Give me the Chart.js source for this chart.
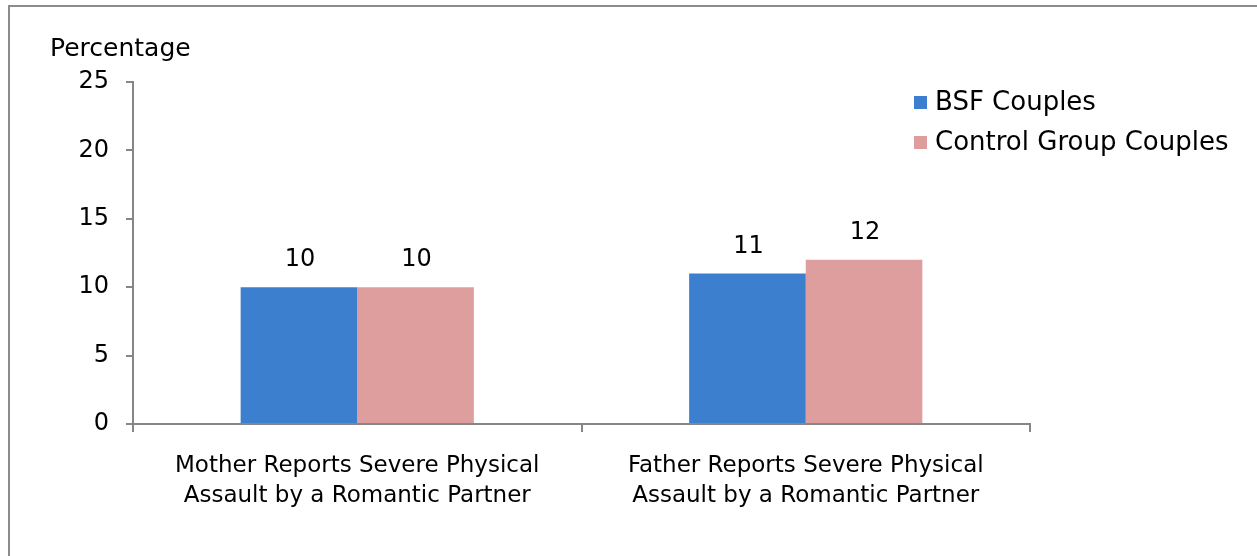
<!DOCTYPE html>
<html>
<head>
<meta charset="utf-8">
<script src="https://cdn.jsdelivr.net/npm/chart.js"></script>
<style>
  html, body { margin: 0; padding: 0; background: #fff; }
  #wrap { position: relative; width: 1257px; height: 556px; }
</style>
</head>
<body>
<div id="wrap"><canvas id="chart" width="1257" height="556"></canvas></div>
<script>
// 資料
const categories = [
    ['Mother Reports Severe Physical', 'Assault by a Romantic Partner'],
    ['Father Reports Severe Physical', 'Assault by a Romantic Partner']
];
const seriesNames = ['BSF Couples', 'Control Group Couples'];
const bsfValues = [10, 11];
const controlValues = [10, 12];
const yTicks = [0, 5, 10, 15, 20, 25];

const COLORS = {
    bsf: '#3d7fcf',
    control: '#df9e9e',
    axis: '#868686',
    text: '#000000'
};
const FONT = '"DejaVu Sans", sans-serif';

// 外框、Y 軸標題、數值標籤、圖例
const decorPlugin = {
    id: 'decor',
    beforeDraw(chart) {
        const ctx = chart.ctx;
        ctx.save();
        ctx.strokeStyle = '#8c8c8c';
        ctx.lineWidth = 2;
        ctx.strokeRect(9, 6, 1400, 700);
        ctx.restore();
    },
    afterDatasetsDraw(chart) {
        const ctx = chart.ctx;
        ctx.save();
        ctx.fillStyle = COLORS.text;
        ctx.textBaseline = 'middle';

        ctx.font = '25px ' + FONT;
        ctx.textAlign = 'left';
        ctx.fillText('Percentage', 50, 49);

        // 數值標籤
        ctx.font = '24px ' + FONT;
        ctx.textAlign = 'center';
        chart.data.datasets.forEach((ds, i) => {
            chart.getDatasetMeta(i).data.forEach((bar, j) => {
                ctx.fillText(String(ds.data[j]), bar.x + 1, bar.y - 27);
            });
        });

        // 圖例
        ctx.font = '26px ' + FONT;
        ctx.textAlign = 'left';
        chart.data.datasets.forEach((ds, i) => {
            const y = 102 + i * 40;
            ctx.fillStyle = ds.backgroundColor;
            ctx.fillRect(914, y - 6, 13, 13);
            ctx.fillStyle = COLORS.text;
            ctx.fillText(ds.label, 935, y + 1);
        });
        ctx.restore();
    }
};

new Chart(document.getElementById('chart'), {
    type: 'bar',
    data: {
        labels: categories,
        datasets: [
            { label: seriesNames[0], data: bsfValues, backgroundColor: COLORS.bsf, borderWidth: 0 },
            { label: seriesNames[1], data: controlValues, backgroundColor: COLORS.control, borderWidth: 0 }
        ]
    },
    options: {
        responsive: false,
        animation: false,
        devicePixelRatio: 1,
        layout: { padding: { left: 0, top: 82, right: 227, bottom: 0 } },
        datasets: { bar: { categoryPercentage: 0.52, barPercentage: 1.0 } },
        plugins: {
            legend: { display: false },
            tooltip: { enabled: false }
        },
        scales: {
            x: {
                afterFit(scale) { scale.height = 132; },
                grid: {
                    offset: true,
                    drawOnChartArea: false,
                    tickLength: 8,
                    color: COLORS.axis,
                    lineWidth: 2
                },
                border: { color: COLORS.axis, width: 2 },
                ticks: {
                    color: COLORS.text,
                    font: { family: FONT, size: 23, lineHeight: 30 / 23 },
                    padding: 19,
                    maxRotation: 0
                }
            },
            y: {
                min: 0,
                max: 25,
                afterFit(scale) { scale.width = 133; },
                afterBuildTicks(scale) { scale.ticks = yTicks.map(v => ({ value: v })); },
                grid: {
                    drawOnChartArea: false,
                    tickLength: 7,
                    color: COLORS.axis,
                    lineWidth: 2
                },
                border: { color: COLORS.axis, width: 2 },
                ticks: {
                    color: COLORS.text,
                    font: { family: FONT, size: 24 },
                    padding: 17
                }
            }
        }
    },
    plugins: [decorPlugin]
});
</script>
</body>
</html>
